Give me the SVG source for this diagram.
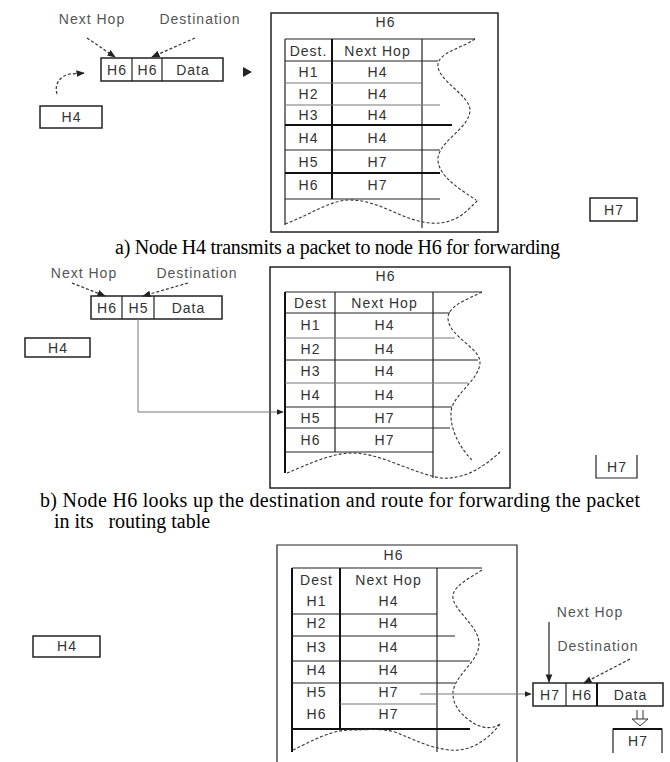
<svg xmlns="http://www.w3.org/2000/svg" width="670" height="762" viewBox="0 0 670 762">
<defs>
<style>
.bx{fill:#fff;stroke:#222;stroke-width:1.5}
.ln{stroke:#222;stroke-width:1.2;fill:none}
.lt{stroke:#777;stroke-width:1;fill:none}
.tk{stroke:#111;stroke-width:2;fill:none}
.dw{stroke:#333;stroke-width:1.1;fill:none;stroke-dasharray:3 2}
.da{stroke:#333;stroke-width:1.2;fill:none;stroke-dasharray:3 2}
.t{font-family:"Liberation Sans",Arial,sans-serif;font-size:14px;letter-spacing:1px;fill:#333;text-anchor:middle;dominant-baseline:central}
.l{font-family:"Liberation Sans",Arial,sans-serif;font-size:14px;letter-spacing:1px;fill:#555;text-anchor:middle;dominant-baseline:central}
.cap{font-family:"Liberation Serif","Times New Roman",serif;font-size:20px;fill:#000}
</style>
<marker id="ah" viewBox="0 0 10 10" refX="9" refY="5" markerWidth="7" markerHeight="7" orient="auto-start-reverse"><path d="M0,1 L10,5 L0,9 Z" fill="#222"/></marker>
</defs>
<rect width="670" height="762" fill="#fff"/>

<!-- Panel a -->
<g id="a-labels">
<text class="l" x="92" y="19">Next Hop</text>
<text class="l" x="200" y="19">Destination</text>
</g>
<g id="a-packet">
<rect class="bx" x="101" y="58" width="122" height="23"/>
<line class="ln" x1="132" y1="58" x2="132" y2="81"/>
<line class="ln" x1="162" y1="58" x2="162" y2="81"/>
<text class="t" x="117" y="69.5">H6</text>
<text class="t" x="147.5" y="69.5">H6</text>
<text class="t" x="193" y="69.5">Data</text>
</g>
<g id="a-h4"><rect class="bx" x="40" y="106" width="62" height="22"/><text class="t" x="71.5" y="117">H4</text></g>
<g id="a-h6">
<rect class="bx" x="271" y="13" width="227" height="219"/>
<text class="t" x="385.5" y="22">H6</text>
<line class="ln" x1="285" y1="39" x2="475" y2="39"/>
<line class="ln" x1="285" y1="39" x2="285" y2="225"/>
<line class="tk" x1="332" y1="39" x2="332" y2="199"/>
<line class="ln" x1="422" y1="39" x2="422" y2="228"/>
<line class="ln" x1="285" y1="61" x2="438" y2="61"/>
<line class="lt" x1="285" y1="83" x2="422" y2="83"/>
<line class="lt" x1="285" y1="105" x2="440" y2="105"/>
<line class="tk" x1="285" y1="125" x2="452" y2="125"/>
<line class="ln" x1="285" y1="150" x2="440" y2="150"/>
<line class="tk" x1="285" y1="173" x2="440" y2="173"/>
<line class="ln" x1="285" y1="199" x2="440" y2="199"/>
<text class="t" x="308.5" y="51">Dest.</text><text class="t" x="377.5" y="51">Next Hop</text>
<text class="t" x="308.5" y="72">H1</text><text class="t" x="377.5" y="72">H4</text>
<text class="t" x="308.5" y="94">H2</text><text class="t" x="377.5" y="94">H4</text>
<text class="t" x="308.5" y="115">H3</text><text class="t" x="377.5" y="115">H4</text>
<text class="t" x="308.5" y="138">H4</text><text class="t" x="377.5" y="138">H4</text>
<text class="t" x="308.5" y="162">H5</text><text class="t" x="377.5" y="162">H7</text>
<text class="t" x="308.5" y="185">H6</text><text class="t" x="377.5" y="185">H7</text>
<path class="dw" d="M475,39 C462,48 440,52 438,64 C436,80 470,95 470,110 C470,128 440,140 438,158 C437,175 458,188 476,200"/>
<path class="dw" d="M285,224 C310,215 330,200 350,200 C380,200 400,220 430,223 C455,225 466,212 478,200"/>
</g>
<g id="a-h7"><rect class="bx" x="590" y="198" width="47" height="23"/><text class="t" x="614" y="209.5">H7</text></g>

<!-- Panel b -->
<g id="b-labels">
<text class="l" x="84" y="273">Next Hop</text>
<text class="l" x="197" y="273">Destination</text>
</g>
<g id="b-packet">
<rect class="bx" x="91" y="296" width="131" height="23"/>
<line class="ln" x1="122" y1="296" x2="122" y2="319"/>
<line class="ln" x1="154" y1="296" x2="154" y2="319"/>
<text class="t" x="107" y="307.5">H6</text>
<text class="t" x="138.5" y="307.5">H5</text>
<text class="t" x="188.5" y="307.5">Data</text>
</g>
<g id="b-h4"><rect class="bx" x="25" y="338" width="65" height="19"/><text class="t" x="58" y="347.5">H4</text></g>
<g id="b-h6">
<rect class="bx" x="270" y="267" width="240" height="221"/>
<text class="t" x="385.5" y="276">H6</text>
<line class="ln" x1="285" y1="292" x2="482" y2="292"/>
<line class="tk" x1="285" y1="292" x2="285" y2="473"/>
<line class="ln" x1="335" y1="292" x2="335" y2="452"/>
<line class="ln" x1="433" y1="292" x2="433" y2="478"/>
<line class="ln" x1="285" y1="313" x2="450" y2="313"/>
<line class="lt" x1="285" y1="338" x2="455" y2="338"/>
<line class="ln" x1="285" y1="360" x2="478" y2="360"/>
<line class="lt" x1="285" y1="383" x2="468" y2="383"/>
<line class="ln" x1="285" y1="407" x2="452" y2="407"/>
<line class="ln" x1="285" y1="428" x2="450" y2="428"/>
<line class="ln" x1="285" y1="452" x2="433" y2="452"/>
<text class="t" x="310.5" y="303">Dest</text><text class="t" x="384.5" y="303">Next Hop</text>
<text class="t" x="310.5" y="325">H1</text><text class="t" x="384.5" y="325">H4</text>
<text class="t" x="310.5" y="349">H2</text><text class="t" x="384.5" y="349">H4</text>
<text class="t" x="310.5" y="371">H3</text><text class="t" x="384.5" y="371">H4</text>
<text class="t" x="310.5" y="395">H4</text><text class="t" x="384.5" y="395">H4</text>
<text class="t" x="310.5" y="418">H5</text><text class="t" x="384.5" y="418">H7</text>
<text class="t" x="310.5" y="440">H6</text><text class="t" x="384.5" y="440">H7</text>
<path class="dw" d="M482,292 C466,300 448,306 448,318 C448,336 480,348 480,362 C480,380 452,395 451,412 C450,432 462,450 472,460"/>
<path class="dw" d="M287,473 C305,466 330,453 352,453 C380,453 410,472 440,478 C465,480 485,466 500,452"/>
</g>
<g id="b-h7"><path class="ln" d="M596,455 L596,478 L637,478 L637,455"/><text class="t" x="617" y="467">H7</text></g>

<!-- Panel c -->
<g id="c-h4"><rect class="bx" x="33" y="636" width="67" height="21"/><text class="t" x="67" y="646">H4</text></g>
<g id="c-h6">
<path class="ln" d="M277,762 L277,545 L517,545 L517,762"/>
<text class="t" x="393.5" y="555">H6</text>
<line class="ln" x1="292" y1="568" x2="482" y2="568"/>
<line class="tk" x1="292" y1="568" x2="292" y2="752"/>
<line class="tk" x1="340" y1="568" x2="340" y2="729"/>
<line class="ln" x1="437" y1="568" x2="437" y2="752"/>
<line class="ln" x1="292" y1="614" x2="437" y2="614"/>
<line class="ln" x1="292" y1="636" x2="455" y2="636"/>
<line class="ln" x1="292" y1="661" x2="470" y2="661"/>
<line class="ln" x1="292" y1="683" x2="455" y2="683"/>
<line class="lt" x1="340" y1="704" x2="437" y2="704"/>
<line class="tk" x1="292" y1="729" x2="470" y2="729"/>
<text class="t" x="316.5" y="580">Dest</text><text class="t" x="388.5" y="580">Next Hop</text>
<text class="t" x="316.5" y="601">H1</text><text class="t" x="388.5" y="601">H4</text>
<text class="t" x="316.5" y="623">H2</text><text class="t" x="388.5" y="623">H4</text>
<text class="t" x="316.5" y="647">H3</text><text class="t" x="388.5" y="647">H4</text>
<text class="t" x="316.5" y="670">H4</text><text class="t" x="388.5" y="670">H4</text>
<text class="t" x="316.5" y="692">H5</text><text class="t" x="388.5" y="692">H7</text>
<text class="t" x="316.5" y="714">H6</text><text class="t" x="388.5" y="714">H7</text>
<path class="dw" d="M482,570 C470,578 455,585 453,595 C451,610 480,625 479,645 C478,662 455,675 453,692 C452,708 466,718 473,723 C485,730 495,728 500,724"/>
<path class="dw" d="M293,750 C310,742 330,730 350,730 C368,730 380,728 395,732 C415,740 430,748 450,750 C470,752 488,740 500,724"/>
</g>
<g id="c-labels">
<text class="l" x="590" y="612">Next Hop</text>
<text class="l" x="598" y="646" text-anchor="start">Destination</text>
</g>
<g id="c-packet">
<rect class="bx" x="533" y="683" width="130" height="23"/>
<line class="ln" x1="566" y1="683" x2="566" y2="706"/>
<line class="tk" x1="597" y1="683" x2="597" y2="706"/>
<text class="t" x="550" y="694.5">H7</text>
<text class="t" x="582" y="694.5">H6</text>
<text class="t" x="630.5" y="694.5">Data</text>
</g>
<g id="c-h7"><path class="ln" d="M613,753 L613,729 L662,729 L662,753"/><line class="tk" x1="613" y1="729" x2="662" y2="729"/><text class="t" x="638" y="741">H7</text></g>

<!-- connectors -->
<g id="connectors">
<line class="da" x1="87" y1="38" x2="115" y2="57" marker-end="url(#ah)"/>
<line class="da" x1="195" y1="38" x2="152" y2="57" marker-end="url(#ah)"/>
<path d="M243,67 L252,72 L243,77 Z" fill="#222"/>
<path class="da" d="M57,94 C54,84 60,76 70,74 L84,73" marker-end="url(#ah)"/>
<line class="da" x1="72" y1="283" x2="105" y2="296" marker-end="url(#ah)"/>
<line class="da" x1="188" y1="283" x2="143" y2="296" marker-end="url(#ah)"/>
<path class="lt" d="M138,319 L138,412 L283,412" marker-end="url(#ah)"/>
<line class="lt" x1="420" y1="694" x2="531" y2="694" marker-end="url(#ah)"/>
<line class="ln" x1="549" y1="622" x2="549" y2="682" marker-end="url(#ah)"/>
<line class="da" x1="630" y1="659" x2="584" y2="683" marker-end="url(#ah)"/>
<path d="M637,710 L637,719 M643,710 L643,719" stroke="#333" stroke-width="1" fill="none"/>
<path d="M632,719 L648,719 L640,726 Z" fill="#fff" stroke="#333" stroke-width="1"/>
</g>

<!-- captions -->
<text class="cap" x="115" y="254" textLength="445" lengthAdjust="spacing">a) Node H4 transmits a packet to node H6 for forwarding</text>
<text class="cap" x="40" y="507" textLength="600" lengthAdjust="spacing">b) Node H6 looks up the destination and route for forwarding the packet</text>
<text class="cap" x="54" y="528" xml:space="preserve">in its   routing table</text>
</svg>
